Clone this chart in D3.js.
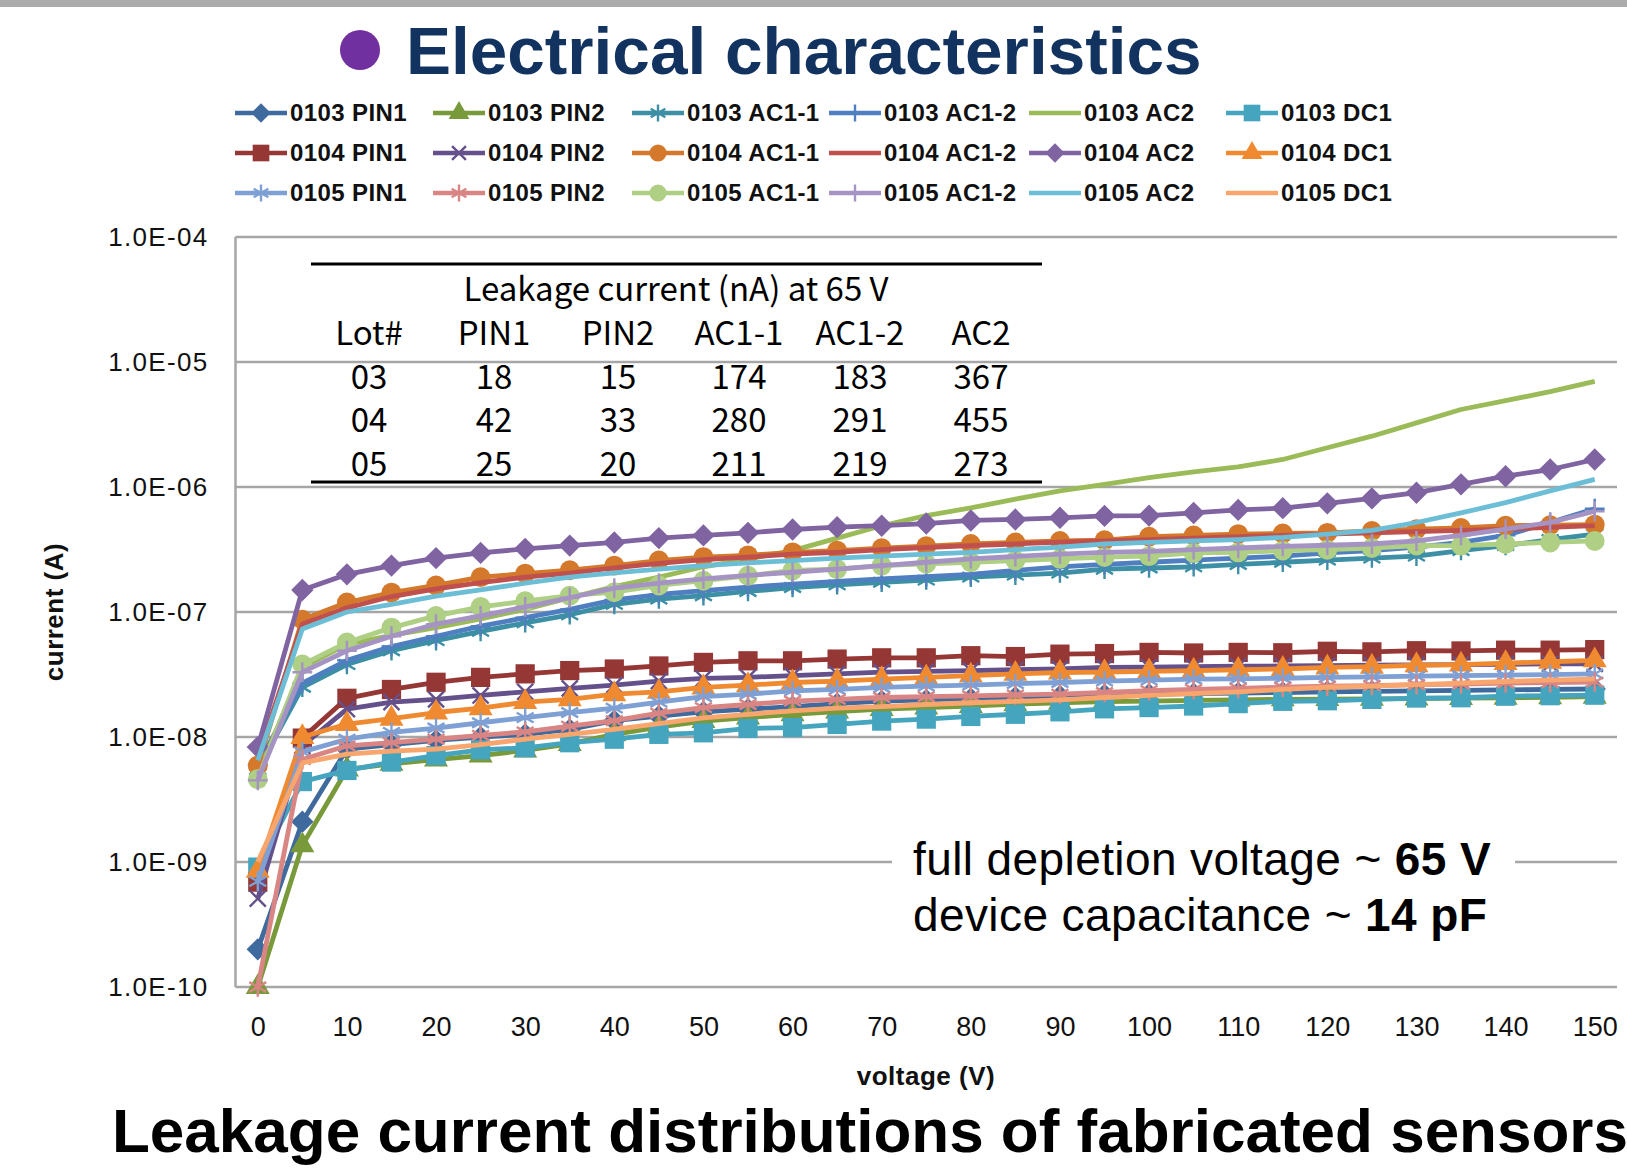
<!DOCTYPE html>
<html>
<head>
<meta charset="utf-8">
<script src="https://cdn.jsdelivr.net/npm/d3@7"></script>
<style>
  body { margin: 0; background: #fff; }
  svg { display: block; }
</style>
</head>
<body>
<script>
// voltage steps (category axis) and y tick labels
var voltages = [0,5,10,15,20,25,30,35,40,45,50,55,60,65,70,75,80,85,90,95,100,105,110,115,120,125,130,135,140,145,150];
var yTicks = [1e-4, 1e-5, 1e-6, 1e-7, 1e-8, 1e-9, 1e-10];
var yTickLabels = ["1.0E-04", "1.0E-05", "1.0E-06", "1.0E-07", "1.0E-08", "1.0E-09", "1.0E-10"];

// leakage current (A), one array per sensor
var s0103PIN1 = [2e-10,2.1e-9,8e-9,8.7e-9,9.4e-9,1.0e-8,1.05e-8,1.15e-8,1.35e-8,1.47e-8,1.59e-8,1.67e-8,1.75e-8,1.85e-8,1.94e-8,1.98e-8,2.03e-8,2.08e-8,2.13e-8,2.18e-8,2.2e-8,2.22e-8,2.25e-8,2.27e-8,2.3e-8,2.32e-8,2.34e-8,2.36e-8,2.38e-8,2.4e-8,2.42e-8];
var s0103PIN2 = [1e-10,1.36e-9,5.5e-9,6.1e-9,6.6e-9,7.1e-9,7.8e-9,8.8e-9,1.05e-8,1.2e-8,1.34e-8,1.43e-8,1.52e-8,1.6e-8,1.67e-8,1.72e-8,1.77e-8,1.83e-8,1.88e-8,1.92e-8,1.94e-8,1.96e-8,1.98e-8,2.0e-8,2.01e-8,2.02e-8,2.03e-8,2.05e-8,2.06e-8,2.08e-8,2.1e-8];
var s0103AC11 = [5.5e-9,2.5e-8,3.8e-8,4.9e-8,5.9e-8,7.0e-8,8.2e-8,9.5e-8,1.15e-7,1.27e-7,1.35e-7,1.46e-7,1.57e-7,1.65e-7,1.73e-7,1.8e-7,1.9e-7,1.97e-7,2.05e-7,2.2e-7,2.25e-7,2.3e-7,2.4e-7,2.5e-7,2.6e-7,2.7e-7,2.8e-7,3.1e-7,3.4e-7,3.8e-7,4.2e-7];
var s0103AC12 = [6e-9,2.7e-8,4.1e-8,5.3e-8,6.4e-8,7.7e-8,9.0e-8,1.05e-7,1.25e-7,1.38e-7,1.48e-7,1.58e-7,1.67e-7,1.76e-7,1.84e-7,1.92e-7,2.0e-7,2.15e-7,2.3e-7,2.4e-7,2.5e-7,2.6e-7,2.7e-7,2.8e-7,2.97e-7,3.1e-7,3.3e-7,3.6e-7,4.1e-7,5.2e-7,6.7e-7];
var s0103AC2  = [5e-9,3.6e-8,5.5e-8,6.5e-8,7.5e-8,8.8e-8,1.05e-7,1.3e-7,1.6e-7,1.9e-7,2.3e-7,2.65e-7,3.1e-7,3.9e-7,4.9e-7,5.9e-7,6.8e-7,8.0e-7,9.3e-7,1.05e-6,1.19e-6,1.32e-6,1.45e-6,1.66e-6,2.06e-6,2.55e-6,3.26e-6,4.17e-6,4.9e-6,5.8e-6,7.0e-6];
var s0103DC1  = [9.1e-10,4.4e-9,5.4e-9,6.3e-9,7.1e-9,7.9e-9,8.2e-9,9.0e-9,9.6e-9,1.05e-8,1.08e-8,1.17e-8,1.19e-8,1.26e-8,1.34e-8,1.39e-8,1.46e-8,1.52e-8,1.59e-8,1.68e-8,1.72e-8,1.77e-8,1.85e-8,1.93e-8,1.95e-8,2.0e-8,2.05e-8,2.06e-8,2.12e-8,2.14e-8,2.16e-8];
var s0104PIN1 = [6.9e-10,9.8e-9,2.04e-8,2.4e-8,2.74e-8,3.0e-8,3.2e-8,3.4e-8,3.5e-8,3.7e-8,3.95e-8,4.07e-8,4.07e-8,4.2e-8,4.3e-8,4.3e-8,4.47e-8,4.4e-8,4.6e-8,4.65e-8,4.75e-8,4.7e-8,4.75e-8,4.72e-8,4.85e-8,4.8e-8,4.9e-8,4.88e-8,4.95e-8,4.95e-8,5.0e-8];
var s0104PIN2 = [5.1e-10,8.5e-9,1.67e-8,1.9e-8,2.0e-8,2.15e-8,2.3e-8,2.45e-8,2.6e-8,2.8e-8,2.94e-8,3.0e-8,3.1e-8,3.2e-8,3.3e-8,3.35e-8,3.4e-8,3.45e-8,3.5e-8,3.6e-8,3.62e-8,3.65e-8,3.68e-8,3.7e-8,3.72e-8,3.75e-8,3.77e-8,3.8e-8,3.82e-8,3.84e-8,3.85e-8];
var s0104AC11 = [5.9e-9,8.7e-8,1.19e-7,1.43e-7,1.63e-7,1.9e-7,2.03e-7,2.16e-7,2.35e-7,2.58e-7,2.75e-7,2.84e-7,3.0e-7,3.1e-7,3.24e-7,3.36e-7,3.5e-7,3.6e-7,3.7e-7,3.75e-7,4.0e-7,4.1e-7,4.2e-7,4.25e-7,4.3e-7,4.45e-7,4.6e-7,4.7e-7,4.9e-7,4.95e-7,5.0e-7];
var s0104AC12 = [7e-9,8.0e-8,1.08e-7,1.33e-7,1.53e-7,1.72e-7,1.9e-7,2.05e-7,2.25e-7,2.45e-7,2.62e-7,2.75e-7,2.9e-7,3.0e-7,3.15e-7,3.28e-7,3.4e-7,3.5e-7,3.62e-7,3.7e-7,3.8e-7,3.9e-7,4.0e-7,4.1e-7,4.2e-7,4.3e-7,4.4e-7,4.5e-7,4.6e-7,4.75e-7,4.9e-7];
var s0104AC2  = [8.3e-9,1.5e-7,2.0e-7,2.35e-7,2.7e-7,2.97e-7,3.2e-7,3.4e-7,3.6e-7,3.9e-7,4.1e-7,4.3e-7,4.57e-7,4.77e-7,4.9e-7,5.1e-7,5.4e-7,5.5e-7,5.67e-7,5.87e-7,5.9e-7,6.2e-7,6.56e-7,6.77e-7,7.4e-7,8.1e-7,9.0e-7,1.05e-6,1.22e-6,1.38e-6,1.66e-6];
var s0104DC1  = [8.5e-10,1.0e-8,1.27e-8,1.4e-8,1.57e-8,1.7e-8,1.9e-8,2.0e-8,2.2e-8,2.3e-8,2.49e-8,2.6e-8,2.73e-8,2.8e-8,2.9e-8,3.0e-8,3.1e-8,3.2e-8,3.28e-8,3.3e-8,3.35e-8,3.4e-8,3.45e-8,3.5e-8,3.6e-8,3.65e-8,3.75e-8,3.8e-8,3.9e-8,4.0e-8,4.1e-8];
var s0105PIN1 = [7e-10,7.6e-9,9.6e-9,1.09e-8,1.18e-8,1.3e-8,1.43e-8,1.57e-8,1.7e-8,1.9e-8,2.1e-8,2.2e-8,2.34e-8,2.4e-8,2.49e-8,2.55e-8,2.6e-8,2.67e-8,2.73e-8,2.8e-8,2.85e-8,2.9e-8,2.92e-8,2.95e-8,3.0e-8,3.03e-8,3.07e-8,3.1e-8,3.13e-8,3.16e-8,3.2e-8];
var s0105PIN2 = [1e-10,6.6e-9,8.5e-9,9.0e-9,9.6e-9,1.03e-8,1.1e-8,1.22e-8,1.35e-8,1.55e-8,1.72e-8,1.82e-8,1.94e-8,2.0e-8,2.07e-8,2.1e-8,2.13e-8,2.17e-8,2.2e-8,2.27e-8,2.35e-8,2.4e-8,2.45e-8,2.5e-8,2.55e-8,2.58e-8,2.62e-8,2.65e-8,2.7e-8,2.72e-8,2.75e-8];
var s0105AC11 = [4.6e-9,3.8e-8,5.7e-8,7.5e-8,9.3e-8,1.1e-7,1.22e-7,1.35e-7,1.44e-7,1.63e-7,1.78e-7,1.95e-7,2.15e-7,2.2e-7,2.35e-7,2.43e-7,2.5e-7,2.58e-7,2.66e-7,2.75e-7,2.8e-7,2.97e-7,3.0e-7,3.1e-7,3.15e-7,3.25e-7,3.4e-7,3.4e-7,3.5e-7,3.6e-7,3.7e-7];
var s0105AC12 = [4.5e-9,3.3e-8,4.9e-8,6.4e-8,8.0e-8,9.3e-8,1.1e-7,1.3e-7,1.55e-7,1.7e-7,1.84e-7,1.96e-7,2.08e-7,2.2e-7,2.35e-7,2.5e-7,2.66e-7,2.78e-7,2.9e-7,3.0e-7,3.05e-7,3.15e-7,3.25e-7,3.35e-7,3.42e-7,3.5e-7,3.7e-7,4.1e-7,4.6e-7,5.2e-7,6.4e-7];
var s0105AC2  = [6.5e-9,7.3e-8,1.0e-7,1.15e-7,1.34e-7,1.5e-7,1.7e-7,1.9e-7,2.06e-7,2.2e-7,2.35e-7,2.47e-7,2.58e-7,2.7e-7,2.8e-7,2.9e-7,3.0e-7,3.15e-7,3.3e-7,3.5e-7,3.6e-7,3.7e-7,3.8e-7,3.95e-7,4.2e-7,4.5e-7,5.2e-7,6.2e-7,7.5e-7,9.3e-7,1.15e-6];
var s0105DC1  = [1e-9,6.2e-9,7.3e-9,7.7e-9,8.0e-9,8.7e-9,9.6e-9,1.05e-8,1.15e-8,1.28e-8,1.42e-8,1.52e-8,1.62e-8,1.7e-8,1.75e-8,1.82e-8,1.88e-8,1.93e-8,1.98e-8,2.07e-8,2.15e-8,2.22e-8,2.3e-8,2.4e-8,2.5e-8,2.55e-8,2.62e-8,2.7e-8,2.78e-8,2.85e-8,2.9e-8];

var seriesNames = ["0103 PIN1","0103 PIN2","0103 AC1-1","0103 AC1-2","0103 AC2","0103 DC1",
                   "0104 PIN1","0104 PIN2","0104 AC1-1","0104 AC1-2","0104 AC2","0104 DC1",
                   "0105 PIN1","0105 PIN2","0105 AC1-1","0105 AC1-2","0105 AC2","0105 DC1"];
var seriesValues = [s0103PIN1, s0103PIN2, s0103AC11, s0103AC12, s0103AC2, s0103DC1,
                    s0104PIN1, s0104PIN2, s0104AC11, s0104AC12, s0104AC2, s0104DC1,
                    s0105PIN1, s0105PIN2, s0105AC11, s0105AC12, s0105AC2, s0105DC1];
var seriesColors = ["#3F6A9E","#789A3A","#3C8FA4","#4F7FC0","#9BBB59","#45A5BF",
                    "#953735","#64508A","#D4782C","#C0504D","#8064A2","#F08A30",
                    "#7EA0D4","#D98583","#AECF84","#A593C4","#6CBDD6","#F9A66E"];
var seriesMarkers = ["diamond","triangle","asterisk","plus","none","square",
                     "square","x","circle","none","diamond","triangle",
                     "asterisk","asterisk","circle","plus","none","none"];

// inset table
var tableTitle = "Leakage current (nA) at 65 V";
var tableHeader = ["Lot#", "PIN1", "PIN2", "AC1-1", "AC1-2", "AC2"];
var tableLots = ["03", "04", "05"];
var tablePIN1 = [18, 42, 25];
var tablePIN2 = [15, 33, 20];
var tableAC11 = [174, 280, 211];
var tableAC12 = [183, 291, 219];
var tableAC2 = [367, 455, 273];

var W = 1627, H = 1176;
var plotLeft = 235.5, plotRight = 1617, plotTop = 237, plotBottom = 987;

var svg = d3.select("body").append("svg")
  .attr("width", W)
  .attr("height", H);

// grey band at the very top
svg.append("rect").attr("x", 0).attr("y", 0).attr("width", W).attr("height", 7).attr("fill", "#ABABAB");

// title with bullet
svg.append("circle").attr("cx", 360).attr("cy", 50).attr("r", 20).attr("fill", "#7030A0");
svg.append("text")
  .attr("x", 406).attr("y", 74)
  .style("font-family", "'Liberation Sans', Arial, sans-serif")
  .style("font-weight", "bold")
  .style("font-size", "67.5px")
  .attr("fill", "#12335F")
  .text("Electrical characteristics");

var x = d3.scalePoint()
  .domain(voltages)
  .range([plotLeft, plotRight])
  .padding(0.5);

var y = d3.scaleLog()
  .domain([1e-10, 1e-4])
  .range([plotBottom, plotTop]);

// gridlines
svg.append("g").selectAll("line")
  .data(yTicks)
  .enter()
  .append("line")
  .attr("x1", plotLeft).attr("x2", plotRight)
  .attr("y1", function(d) { return y(d); })
  .attr("y2", function(d) { return y(d); })
  .attr("stroke", "#A6A6A6")
  .attr("stroke-width", 2.5);

// left axis line
svg.append("line")
  .attr("x1", plotLeft).attr("x2", plotLeft)
  .attr("y1", plotTop).attr("y2", plotBottom)
  .attr("stroke", "#A6A6A6")
  .attr("stroke-width", 2.5);

// y axis labels
var yAxis = svg.append("g")
  .attr("transform", "translate(" + plotLeft + ",0)")
  .call(d3.axisLeft(y).tickValues(yTicks).tickSize(0).tickPadding(27)
    .tickFormat(function(d, i) { return yTickLabels[i]; }));
yAxis.select(".domain").remove();
yAxis.selectAll("text")
  .style("font-family", "'Liberation Sans', Arial, sans-serif")
  .style("font-size", "26px")
  .style("letter-spacing", "1.3px")
  .attr("fill", "#111");

// x axis labels, every 10 V
var xAxis = svg.append("g")
  .attr("transform", "translate(0," + plotBottom + ")")
  .call(d3.axisBottom(x)
    .tickValues(voltages.filter(function(v) { return v % 10 === 0; }))
    .tickSize(0).tickPadding(30));
xAxis.select(".domain").remove();
xAxis.selectAll("text")
  .style("font-family", "'Liberation Sans', Arial, sans-serif")
  .style("font-size", "27px")
  .attr("fill", "#111");

// axis titles
svg.append("text")
  .attr("x", 926).attr("y", 1085)
  .attr("text-anchor", "middle")
  .style("font-family", "'Liberation Sans', Arial, sans-serif")
  .style("font-weight", "bold")
  .style("font-size", "26px")
  .style("letter-spacing", "0.5px")
  .attr("fill", "#111")
  .text("voltage (V)");

svg.append("text")
  .attr("transform", "translate(63,612) rotate(-90)")
  .attr("text-anchor", "middle")
  .style("font-family", "'Liberation Sans', Arial, sans-serif")
  .style("font-weight", "bold")
  .style("font-size", "26px")
  .style("letter-spacing", "0.5px")
  .attr("fill", "#111")
  .text("current (A)");

// inset table
var table = svg.append("g");
var tableFont = "'Noto Sans CJK KR', 'Noto Sans', sans-serif";
table.append("line").attr("x1", 311).attr("x2", 1042).attr("y1", 264).attr("y2", 264)
  .attr("stroke", "#000").attr("stroke-width", 3);
table.append("line").attr("x1", 311).attr("x2", 1042).attr("y1", 482).attr("y2", 482)
  .attr("stroke", "#000").attr("stroke-width", 3);
table.append("text")
  .attr("x", 676).attr("y", 301)
  .attr("text-anchor", "middle")
  .style("font-family", tableFont)
  .style("font-size", "33px")
  .text(tableTitle);

var colX = [369, 494, 618, 739, 860, 981];
var rowY = [345, 389, 432, 476];
var tableRows = [tableHeader];
tableLots.forEach(function(lot, i) {
  tableRows.push([lot, tablePIN1[i], tablePIN2[i], tableAC11[i], tableAC12[i], tableAC2[i]]);
});
tableRows.forEach(function(row, r) {
  row.forEach(function(cell, c) {
    table.append("text")
      .attr("x", colX[c]).attr("y", rowY[r])
      .attr("text-anchor", "middle")
      .style("font-family", tableFont)
      .style("font-size", "33px")
      .text(cell);
  });
});

// marker shapes
function markerPath(kind, scale) {
  var k = scale || 1;
  if (kind == "diamond") return d3.symbol().type(d3.symbolSquare).size(250 * k)();
  if (kind == "square") return d3.symbol().type(d3.symbolSquare).size(370 * k)();
  if (kind == "circle") return d3.symbol().type(d3.symbolCircle).size(310 * k)();
  if (kind == "triangle") return d3.symbol().type(d3.symbolTriangle).size(250 * k)();
  if (kind == "asterisk") return d3.symbol().type(d3.symbolAsterisk).size(270 * k)();
  if (kind == "plus") return d3.symbol().type(d3.symbolPlus).size(130 * k)();
  if (kind == "x") return d3.symbol().type(d3.symbolX).size(170 * k)();
  return null;
}
function isStroke(kind) {
  return kind == "asterisk" || kind == "plus" || kind == "x";
}
function drawMarker(g, kind, color, cx, cy, scale) {
  if (kind == "none") return;
  var p = g.append("path")
    .attr("d", markerPath(kind, scale))
    .attr("transform", "translate(" + cx + "," + cy + ")" + (kind == "diamond" ? " rotate(45)" : ""));
  if (isStroke(kind)) {
    p.attr("fill", "none").attr("stroke", color).attr("stroke-width", 2.4);
  } else {
    p.attr("fill", color);
  }
}

// series lines and markers
var line = d3.line()
  .x(function(d, i) { return x(voltages[i]); })
  .y(function(d) { return y(d); });

var plot = svg.append("g");
seriesValues.forEach(function(vals, s) {
  var g = plot.append("g");
  g.append("path")
    .datum(vals)
    .attr("d", line)
    .attr("fill", "none")
    .attr("stroke", seriesColors[s])
    .attr("stroke-width", 4.8)
    .attr("stroke-linejoin", "round");
  vals.forEach(function(v, i) {
    drawMarker(g, seriesMarkers[s], seriesColors[s], x(voltages[i]), y(v), 1);
  });
});

// legend
var legendX = [235, 433, 632, 829, 1029, 1226];
var legendY = [113, 153, 193];
var legend = svg.append("g");
seriesNames.forEach(function(name, s) {
  var lx = legendX[s % 6], ly = legendY[Math.floor(s / 6)];
  var g = legend.append("g");
  g.append("line")
    .attr("x1", lx).attr("x2", lx + 52)
    .attr("y1", ly).attr("y2", ly)
    .attr("stroke", seriesColors[s])
    .attr("stroke-width", 4.5);
  drawMarker(g, seriesMarkers[s], seriesColors[s], lx + 26, ly, 0.75);
  g.append("text")
    .attr("x", lx + 55).attr("y", ly + 8)
    .style("font-family", "'Liberation Sans', Arial, sans-serif")
    .style("font-weight", "bold")
    .style("font-size", "24px")
    .style("letter-spacing", "0.4px")
    .attr("fill", "#111")
    .text(name);
});

// annotation on a white box that breaks the 1E-09 gridline
svg.append("rect")
  .attr("x", 892).attr("y", 820).attr("width", 623).attr("height", 130)
  .attr("fill", "#fff");
var note1 = svg.append("text")
  .attr("x", 913).attr("y", 875)
  .style("font-family", "'Liberation Sans', Arial, sans-serif")
  .style("font-size", "46px")
  .style("letter-spacing", "0.4px")
  .attr("fill", "#000");
note1.append("tspan").text("full depletion voltage ~ ");
note1.append("tspan").style("font-weight", "bold").text("65 V");
var note2 = svg.append("text")
  .attr("x", 913).attr("y", 931)
  .style("font-family", "'Liberation Sans', Arial, sans-serif")
  .style("font-size", "46px")
  .style("letter-spacing", "0.4px")
  .attr("fill", "#000");
note2.append("tspan").text("device capacitance ~ ");
note2.append("tspan").style("font-weight", "bold").text("14 pF");

// caption
svg.append("text")
  .attr("x", 112).attr("y", 1152)
  .style("font-family", "'Liberation Sans', Arial, sans-serif")
  .style("font-weight", "bold")
  .style("font-size", "62px")
  .attr("fill", "#000")
  .text("Leakage current distributions of fabricated sensors");
</script>
</body>
</html>
